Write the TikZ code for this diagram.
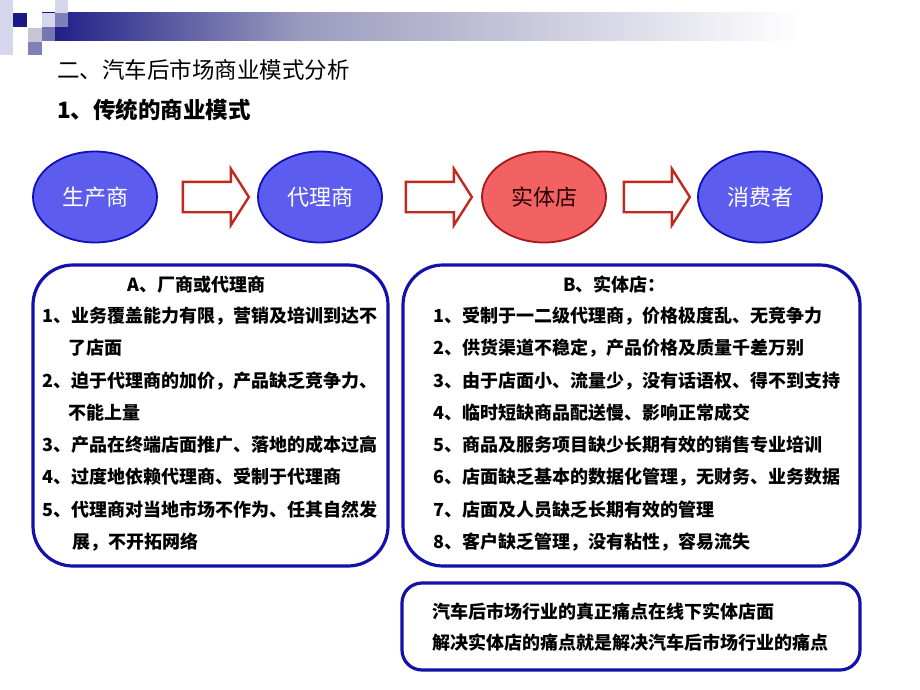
\documentclass[tikz,border=0pt]{standalone}
\usepackage{fontspec}
\setmainfont{Noto Sans CJK SC}
\usetikzlibrary{shapes.geometric,shapes.arrows,calc}
\definecolor{navy}{HTML}{1A1A86}
\definecolor{midbar}{HTML}{9A9ABE}
\definecolor{ellblue}{HTML}{5C5CEE}
\definecolor{ellborder}{HTML}{1010B8}
\definecolor{ellred}{HTML}{F26262}
\definecolor{redborder}{HTML}{A81818}
\definecolor{arrowred}{HTML}{C02A1E}
\definecolor{boxblue}{HTML}{1212AA}
\definecolor{sqlight}{HTML}{D6D6EC}
\definecolor{sqmid}{HTML}{8080B8}
\begin{document}
\begin{tikzpicture}[x=1pt,y=-1pt,
  ell/.style={ellipse, draw=ellborder, line width=1.8pt, fill=ellblue, minimum width=124pt, minimum height=91pt, text=white, font=\fontsize{22}{26}\selectfont, inner sep=0pt},
  ellr/.style={ell, draw=redborder, fill=ellred, text=black!85!red},
  blockarrow/.style={single arrow, draw=arrowred, fill=white, line width=2.4pt, minimum height=66pt, minimum width=56pt, inner xsep=0pt, inner ysep=14pt, single arrow head extend=13pt, single arrow tip angle=115},
  roundbox/.style={draw=boxblue, line width=3.2pt, fill=white, inner sep=0pt},
  item/.style={anchor=west, inner sep=0pt, font=\fontsize{18}{22}\selectfont\bfseries},
  title/.style={anchor=west, inner sep=0pt, font=\fontsize{22.5}{26}\selectfont}
]
\fill[white] (0,0) rectangle (920,690);
\useasboundingbox (0,0) rectangle (920,690);
% header bar
\shade[left color=navy, right color=midbar] (42,13) rectangle (300,41);
\shade[left color=midbar, right color=white] (299,13) rectangle (800,41);
% decorative squares
\fill[sqlight] (0,0) rectangle (13,55);
\fill[navy] (13,13) rectangle (27,27);
\fill[white] (27,13) rectangle (42,27);
\fill[sqlight!80!gray] (28,28) rectangle (42,42);
\fill[sqmid] (28,42) rectangle (42,55);
\fill[sqlight] (42,13) rectangle (55,27);
\fill[sqmid!90!navy] (42,27) rectangle (55,41);
\fill[sqlight] (55,0) rectangle (68,13);
\fill[sqmid] (55,13) rectangle (68,27);
% titles
\node[title] (t1) at (57,70) {二、汽车后市场商业模式分析};
\node[title, font=\fontsize{22.5}{26}\selectfont\bfseries] (t2) at (57,110) {1、传统的商业模式};
% ellipses
\node[ell] (e1) at (95,197) {生产商};
\node[ell] (e2) at (320,197) {代理商};
\node[ellr] (e3) at (544,197) {实体店};
\node[ell] (e4) at (760,197) {消费者};
% block arrows
\node[blockarrow] (a1) at (211,197) {};
\node[blockarrow] (a2) at (434,197) {};
\node[blockarrow] (a3) at (652,197) {};
% boxes
\node[roundbox, rounded corners=40pt, minimum width=355pt, minimum height=301pt] (boxA) at (210.5,415.5) {};
\node[roundbox, rounded corners=40pt, minimum width=457pt, minimum height=301pt] (boxB) at (631.5,415.5) {};
\node[roundbox, rounded corners=20pt, minimum width=458pt, minimum height=87pt] (boxC) at (631,626.5) {};
% box A text
\node[item] (ah) at (127,285) {A、厂商或代理商};
\node[item] (a1t) at (42,316) {1、业务覆盖能力有限，营销及培训到达不};
\node[item] (a1u) at (68,348) {了店面};
\node[item] (a2t) at (42,381) {2、迫于代理商的加价，产品缺乏竞争力、};
\node[item] (a2u) at (68,413) {不能上量};
\node[item] (a3t) at (42,445) {3、产品在终端店面推广、落地的成本过高};
\node[item] (a4t) at (42,477) {4、过度地依赖代理商、受制于代理商};
\node[item] (a5t) at (42,510) {5、代理商对当地市场不作为、任其自然发};
\node[item] (a5u) at (72,542) {展，不开拓网络};
% box B text
\node[item] (bh) at (563,285) {B、实体店：};
\node[item] (b1) at (433,316) {1、受制于一二级代理商，价格极度乱、无竞争力};
\node[item] (b2) at (433,348) {2、供货渠道不稳定，产品价格及质量千差万别};
\node[item] (b3) at (433,381) {3、由于店面小、流量少，没有话语权、得不到支持};
\node[item] (b4) at (433,413) {4、临时短缺商品配送慢、影响正常成交};
\node[item] (b5) at (433,445) {5、商品及服务项目缺少长期有效的销售专业培训};
\node[item] (b6) at (433,477) {6、店面缺乏基本的数据化管理，无财务、业务数据};
\node[item] (b7) at (433,510) {7、店面及人员缺乏长期有效的管理};
\node[item] (b8) at (433,542) {8、客户缺乏管理，没有粘性，容易流失};
% box C text
\node[item] (c1) at (432,612) {汽车后市场行业的真正痛点在线下实体店面};
\node[item] (c2) at (432,643) {解决实体店的痛点就是解决汽车后市场行业的痛点};
\end{tikzpicture}
\end{document}
